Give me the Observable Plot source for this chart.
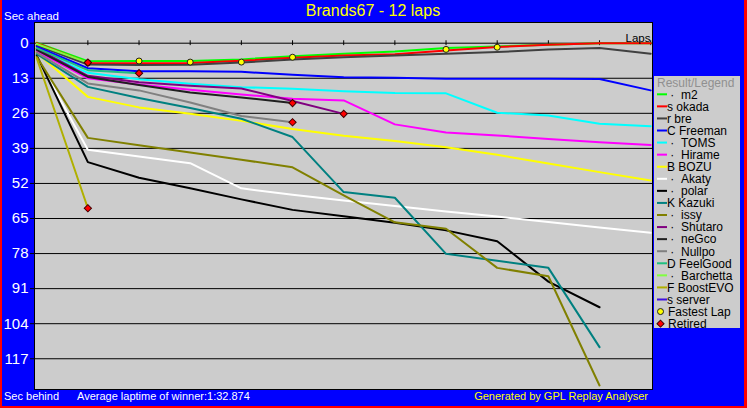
<!DOCTYPE html>
<html><head><meta charset="utf-8">
<script src="https://cdn.jsdelivr.net/npm/d3@7"></script>
<script src="https://cdn.jsdelivr.net/npm/@observablehq/plot@0.6"></script>
<style>
html,body{margin:0;padding:0;background:#0000ff;}
#wrap{position:relative;width:747px;height:408px;background:#0000ff;overflow:hidden;}
#wrap svg{position:absolute;left:0;top:0;}
</style></head><body><div id="wrap"></div>
<script>
// ---- data ----
const laps = [0,1,2,3,4,5,6,7,8,9,10,11,12];
const prefixes = ["·","s","r","C","·","·","B","·","·","K","·","·","·","·","D","·","F","s"];
const names = ["m2","okada","bre","Freeman","TOMS","Hirame","BOZU","Akaty","polar","Kazuki","issy","Shutaro","neGco","Nullpo","FeelGood","Barchetta","BoostEVO","server"];
const colors = ["#00ff00","#ff0000","#404040","#0000ff","#00ffff","#ff00ff","#ffff00","#ffffff","#000000","#008080","#808000","#800080","#202020","#808080","#20c080","#80ff40","#b0b000","#4010e0"];

const m2        = [-0.2, 6.7, 6.6, 6.6, 6.0, 4.8, 3.9, 3.1, 1.8, 1.2, 0.6, 0.0, 0.0];
const okada     = [0.0, 7.3, 7.4, 7.3, 6.5, 5.4, 4.6, 4.1, 2.7, 1.4, 0.6, 0.0, 0.0];
const bre       = [0.8, 7.9, 8.1, 8.0, 7.2, 6.0, 5.2, 4.6, 3.9, 3.3, 2.3, 1.8, 3.9];
const Freeman   = [1.3, 9.3, 10.4, 10.4, 10.6, 11.7, 12.6, 12.8, 13.2, 13.2, 13.2, 13.3, 17.5];
const TOMS      = [2.5, 11.0, 13.4, 15.0, 16.3, 16.9, 17.8, 18.5, 18.6, 25.8, 26.8, 29.9, 30.8];
const Hirame    = [3.0, 13.0, 15.3, 17.3, 19.0, 20.6, 21.2, 30.1, 33.1, 34.2, 35.5, 36.7, 37.7];
const BOZU      = [3.5, 19.9, 23.8, 26.2, 28.8, 31.8, 34.3, 36.3, 38.6, 41.4, 44.6, 47.8, 50.9];
const Akaty     = [5.0, 39.5, 42.0, 44.5, 53.8, 56.2, 58.3, 60.4, 62.4, 64.3, 66.3, 68.3, 70.3];
const polar     = [4.5, 44.1, 49.9, 53.8, 57.9, 61.8, 64.2, 66.6, 69.4, 73.4, 88.4, 97.9];
const Kazuki    = [4.0, 16.2, 20.3, 24.0, 28.0, 34.8, 55.2, 57.3, 78.1, 80.7, 83.3, 112.7];
const issy      = [5.0, 35.1, 37.8, 40.5, 43.2, 46.0, 56.4, 66.4, 68.8, 83.3, 86.4, 126.9];
const Shutaro   = [2.0, 12.1, 14.5, 15.8, 16.8, 21.4, 26.2];
const neGco     = [2.5, 12.5, 15.5, 18.3, 20.1, 22.2];
const Nullpo    = [3.5, 14.9, 17.5, 22.0, 27.0, 29.3];
const FeelGood  = [1.8, 10.0, 11.1];
const Barchetta = [0.3, 7.2];
const BoostEVO  = [5.5, 61.2];
const server    = [];

const fastestLaps = [1, 2, 3, 4, 5, 8, 9];
const fastestGaps = [7.3, 6.6, 7.0, 7.0, 5.2, 2.3, 1.5];
const retiredNames = ["Barchetta", "FeelGood", "BoostEVO", "neGco", "Nullpo", "Shutaro"];

const yTicks = [0, 13, 26, 39, 52, 65, 78, 91, 104, 117];
const lapTicks = [1,2,3,4,5,6,7,8,9,10,11,12];

const titleText = "Brands67 - 12 laps";
const topLeftText = "Sec ahead";
const bottomLeftText = "Sec behind";
const avgText = "Average laptime of winner:1:32.874";
const creditText = "Generated by GPL Replay Analyser";
const xLabel = "Laps";
const legendTitle = "Result/Legend";
const fastestLabel = "Fastest Lap";
const retiredLabel = "Retired";

// ---- build tables ----
const gaps = [m2, okada, bre, Freeman, TOMS, Hirame, BOZU, Akaty, polar, Kazuki, issy, Shutaro, neGco, Nullpo, FeelGood, Barchetta, BoostEVO, server];
const rows = names.flatMap((n, i) => gaps[i].map((g, j) => ({name: n, lap: laps[j], gap: g})));
const fastest = fastestLaps.map((l, i) => ({lap: l, gap: fastestGaps[i]}));
const retired = retiredNames.map(n => {
  const s = gaps[names.indexOf(n)];
  return {lap: laps[s.length - 1], gap: s[s.length - 1]};
});

const FONT = "'Liberation Sans', Arial, sans-serif";

const chart = Plot.plot({
  width: 747, height: 408,
  marginLeft: 34, marginRight: 95, marginTop: 22, marginBottom: 19,
  x: {domain: [0, 12], range: [36.2, 650.2], axis: null},
  y: {domain: [-7.675, 128.4], range: [22, 389], axis: null},
  color: {domain: names, range: colors},
  style: {background: "transparent", overflow: "visible", fontFamily: FONT},
  marks: [
    Plot.frame({fill: "#cccccc", stroke: "black"}),
    Plot.ruleY(yTicks, {stroke: "black", strokeWidth: 1}),
    Plot.ruleX(lapTicks, {x: d => d, y1: -0.9, y2: 0.9, stroke: "black"}),
    Plot.axisY({ticks: yTicks, tickSize: 4, tickPadding: 2, stroke: "black", fill: "white",
                fontSize: 15, label: null, tickFormat: d => String(d)}),
    Plot.line(rows, {x: "lap", y: "gap", z: "name", stroke: "name", strokeWidth: 2}),
    Plot.dot(fastest, {x: "lap", y: "gap", r: 3, fill: "#ffff00", stroke: "#202020", strokeWidth: 1}),
    Plot.dot(retired, {x: "lap", y: "gap", symbol: "square", rotate: 45, r: 2.9, fill: "#ff0000", stroke: "#400000", strokeWidth: 1}),
    Plot.text([xLabel], {frameAnchor: "top-right", text: d => d, dx: -2, dy: 11, fontSize: 11.5, fill: "black", textAnchor: "end"})
  ]
});

const wrap = document.getElementById("wrap");
wrap.appendChild(chart);

// ---- overlay: titles, legend, border ----
const NS = "http://www.w3.org/2000/svg";
const ov = document.createElementNS(NS, "svg");
ov.setAttribute("width", 747); ov.setAttribute("height", 408);
ov.style.fontFamily = FONT;
wrap.appendChild(ov);
function el(tag, attrs, txt, parent) {
  const e = document.createElementNS(NS, tag);
  for (const k in attrs) e.setAttribute(k, attrs[k]);
  if (txt != null) e.textContent = txt;
  (parent || ov).appendChild(e);
  return e;
}
el("text", {x: 373, y: 16, fill: "#ffff00", "font-size": 16, "text-anchor": "middle"}, titleText);
el("text", {x: 4, y: 20, fill: "white", "font-size": 11.5}, topLeftText);
el("text", {x: 4, y: 400, fill: "white", "font-size": 11}, bottomLeftText);
el("text", {x: 77, y: 400, fill: "white", "font-size": 11}, avgText);
el("text", {x: 648, y: 400, fill: "#ffff00", "font-size": 11, "text-anchor": "end"}, creditText);

// legend
el("rect", {x: 654, y: 76, width: 86, height: 252, fill: "#cccccc"});
el("text", {x: 657, y: 86.5, fill: "#909090", "font-size": 12}, legendTitle);
const rowY = i => 94.3 + 12.07 * i;
names.forEach((n, i) => {
  const cy = rowY(i);
  el("rect", {x: 657, y: cy - 1, width: 10, height: 2, fill: colors[i]});
  const label = prefixes[i] === "·" ? "\u00a0·\u00a0\u00a0" + n : prefixes[i] + "\u00a0" + n;
  el("text", {x: 667, y: cy + 4.3, fill: "black", "font-size": 12}, label);
});
{
  const cy = rowY(names.length);
  el("circle", {cx: 660.5, cy: cy, r: 3, fill: "#ffff00", stroke: "#202020"});
  el("text", {x: 668, y: cy + 4.3, fill: "black", "font-size": 12}, fastestLabel);
  const cy2 = rowY(names.length + 1);
  el("rect", {x: 658, y: cy2 - 2.5, width: 5, height: 5, fill: "#ff0000", stroke: "#400000", transform: `rotate(45 660.5 ${cy2})`});
  el("text", {x: 668, y: cy2 + 4.3, fill: "black", "font-size": 12}, retiredLabel);
}
// red border
el("rect", {x: 0, y: 0, width: 2, height: 408, fill: "#ff0000"});
el("rect", {x: 744, y: 0, width: 3, height: 408, fill: "#ff0000"});
el("rect", {x: 0, y: 406, width: 747, height: 2, fill: "#ff0000"});
</script></body></html>
